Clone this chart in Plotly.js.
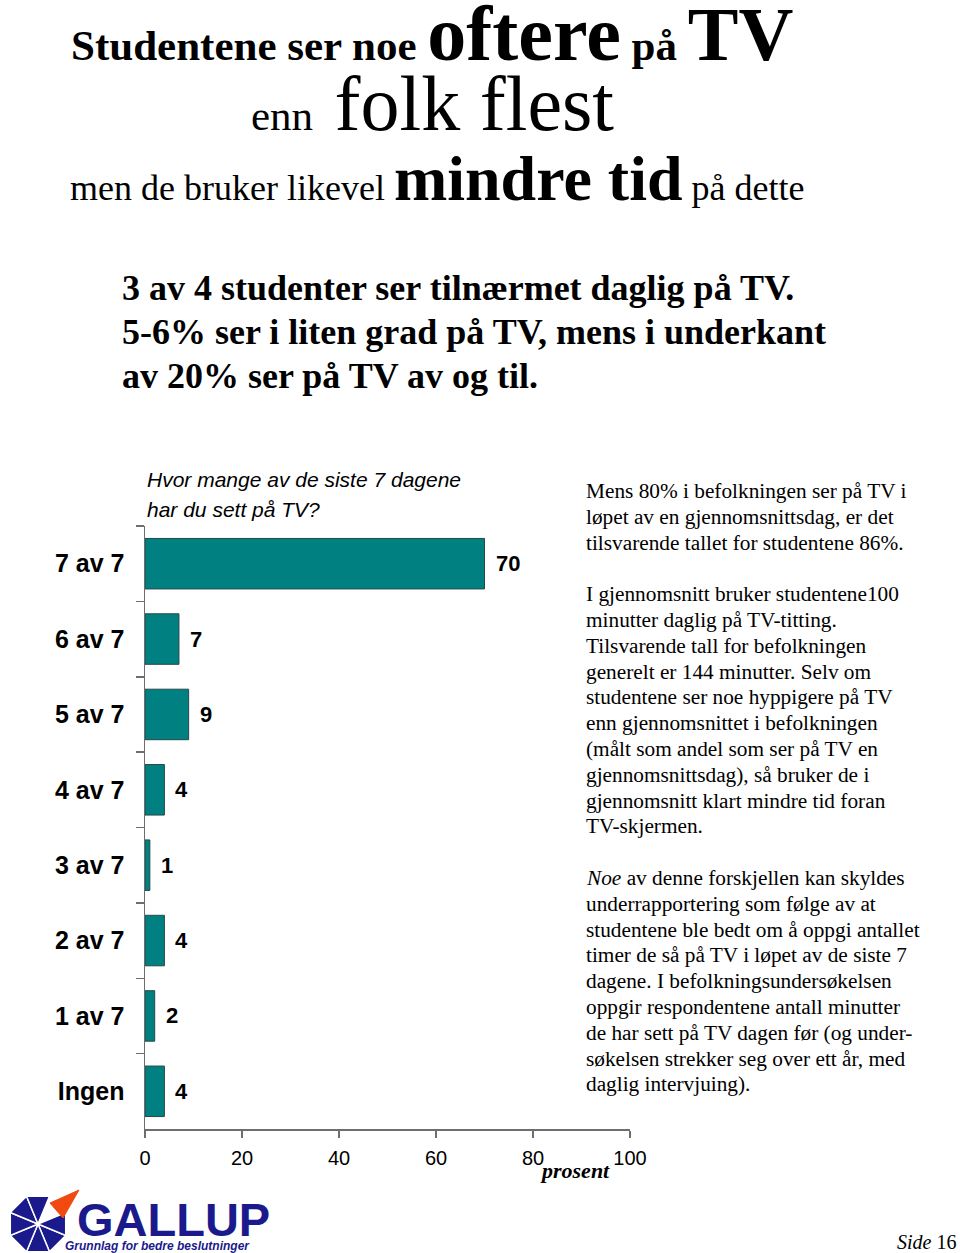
<!DOCTYPE html>
<html>
<head>
<meta charset="utf-8">
<script src="https://cdn.plot.ly/plotly-3.0.1.min.js"></script>
<style>
html,body{margin:0;padding:0;background:#fff;}
#chart{width:960px;height:1253px;}
</style>
</head>
<body>
<div id="chart"></div>
<script>
// ---- data ----
const categories = ["7 av 7","6 av 7","5 av 7","4 av 7","3 av 7","2 av 7","1 av 7","Ingen"];
const values = [70, 7, 9, 4, 1, 4, 2, 4];
const xTicks = [0, 20, 40, 60, 80, 100];

const questionLines = ["Hvor mange av de siste 7 dagene", "har du sett på TV?"];
const summaryLines = [
  "3 av 4 studenter ser tilnærmet daglig på TV.",
  "5-6% ser i liten grad på TV, mens i underkant",
  "av 20% ser på TV av og til."
];
const sideLines = [
  "Mens 80% i befolkningen ser på TV i",
  "løpet av en gjennomsnittsdag, er det",
  "tilsvarende tallet for studentene 86%.",
  "",
  "I gjennomsnitt bruker studentene100",
  "minutter daglig på TV-titting.",
  "Tilsvarende tall for befolkningen",
  "generelt er 144 minutter. Selv om",
  "studentene ser noe hyppigere på TV",
  "enn gjennomsnittet i befolkningen",
  "(målt som andel som ser på TV en",
  "gjennomsnittsdag), så bruker de i",
  "gjennomsnitt klart mindre tid foran",
  "TV-skjermen.",
  "",
  "<i>Noe</i> av denne forskjellen kan skyldes",
  "underrapportering som følge av at",
  "studentene ble bedt om å oppgi antallet",
  "timer de så på TV i løpet av de siste 7",
  "dagene. I befolkningsundersøkelsen",
  "oppgir respondentene antall minutter",
  "de har sett på TV dagen før (og under-",
  "søkelsen strekker seg over ett år, med",
  "daglig intervjuing)."
];

// ---- layout helpers ----
const W = 960, H = 1253;
const L = 145, R = 630, T = 526, B = 1129;
const px = x => (x - L) / (R - L);
const py = y => (B - y) / (B - T);
const SERIF = "Liberation Serif, Times New Roman, serif";
const SANS = "Liberation Sans, Arial, sans-serif";

const annotations = [];

// titles
annotations.push({xref:'paper', yref:'paper', x:px(69), y:py(79), xanchor:'left', yanchor:'bottom', showarrow:false,
  text:'<b>Studentene ser noe <span style="font-size:78px">oftere</span> på <span style="font-size:76px">TV</span></b>',
  font:{family:SERIF, size:43, color:'#000'}});
annotations.push({xref:'paper', yref:'paper', x:px(249), y:py(149), xanchor:'left', yanchor:'bottom', showarrow:false,
  text:'enn  <span style="font-size:78px">folk flest</span>',
  font:{family:SERIF, size:43, color:'#000'}});
annotations.push({xref:'paper', yref:'paper', x:px(68), y:py(216), xanchor:'left', yanchor:'bottom', showarrow:false,
  text:'men de bruker likevel <b><span style="font-size:64px">mindre tid</span></b> på dette',
  font:{family:SERIF, size:36, color:'#000'}});

summaryLines.forEach((t, i) => {
  annotations.push({xref:'paper', yref:'paper', x:px(120), y:py(288 + i*44), xanchor:'left', yanchor:'middle', showarrow:false,
    text:'<b>' + t + '</b>', font:{family:SERIF, size:36, color:'#000'}});
});

questionLines.forEach((t, i) => {
  annotations.push({xref:'paper', yref:'paper', x:px(145), y:py(480 + i*29), xanchor:'left', yanchor:'middle', showarrow:false,
    text:'<i>' + t + '</i>', font:{family:SANS, size:21, color:'#000'}});
});

sideLines.forEach((t, i) => {
  if (!t) return;
  annotations.push({xref:'paper', yref:'paper', x:px(584), y:py(491 + i*25.8), xanchor:'left', yanchor:'middle', showarrow:false,
    text:t, font:{family:SERIF, size:21.3, color:'#000'}});
});

// value labels
categories.forEach((c, i) => {
  annotations.push({xref:'x', yref:'y', x:values[i], y:c, xanchor:'left', yanchor:'middle', xshift:9, showarrow:false,
    text:String(values[i]), font:{family:SANS, size:22, color:'#000', weight:700}});
});

// axis title
annotations.push({xref:'paper', yref:'paper', x:px(575), y:py(1170), xanchor:'center', yanchor:'middle', showarrow:false,
  text:'<b><i>prosent</i></b>', font:{family:SERIF, size:22, color:'#000'}});

// logo text
annotations.push({xref:'paper', yref:'paper', x:px(75), y:py(1219), xanchor:'left', yanchor:'middle', showarrow:false,
  text:'<b>GALLUP</b>', font:{family:SANS, size:47, color:'#1a1a8c'}});
annotations.push({xref:'paper', yref:'paper', x:px(63), y:py(1246), xanchor:'left', yanchor:'middle', showarrow:false,
  text:'<b><i>Grunnlag for bedre beslutninger</i></b>', font:{family:SANS, size:12, color:'#1a1a8c'}});
// page number
annotations.push({xref:'paper', yref:'paper', x:px(958), y:py(1242), xanchor:'right', yanchor:'middle', showarrow:false,
  text:'<i>Side</i> 16', font:{family:SERIF, size:20, color:'#000'}});

// logo shapes
const shapes = [];
const cx = 38, cy = 1224, rad = 30;
for (let k = 0; k < 8; k++) {
  if (k === 6) continue; // upper-right sector replaced by orange wedge
  const a1 = (k * 45 + 22.5) * Math.PI / 180;
  const a2 = ((k + 1) * 45 + 22.5) * Math.PI / 180;
  const p1 = [cx + rad * Math.cos(a1), cy + rad * Math.sin(a1)];
  const p2 = [cx + rad * Math.cos(a2), cy + rad * Math.sin(a2)];
  shapes.push({type:'path', xref:'paper', yref:'paper',
    path:`M${px(cx)},${py(cy)} L${px(p1[0])},${py(p1[1])} L${px(p2[0])},${py(p2[1])} Z`,
    fillcolor:'#1a1a8c', line:{color:'#ffffff', width:1.5}});
}
shapes.push({type:'path', xref:'paper', yref:'paper',
  path:`M${px(50)},${py(1203)} L${px(79)},${py(1190)} L${px(63)},${py(1218)} Z`,
  fillcolor:'#f04a10', line:{color:'#f04a10', width:1}});

const trace = {
  type:'bar', orientation:'h',
  x: values, y: categories,
  marker:{color:'#008080', line:{color:'#264848', width:1}},
  hoverinfo:'skip'
};

const layout = {
  width: W, height: H,
  margin:{l:L, r:W - R, t:T, b:H - B, pad:0},
  paper_bgcolor:'#ffffff', plot_bgcolor:'#ffffff',
  showlegend:false,
  bargap:0.33,
  xaxis:{range:[0,100], tickvals:xTicks, ticktext:xTicks.map(String), ticks:'outside', ticklen:7, tickwidth:1.5,
    tickcolor:'#6e6e6e', showline:true, linecolor:'#6e6e6e', linewidth:1.5, showgrid:false, zeroline:false,
    ticklabelstandoff:3,
    tickfont:{family:SANS, size:20, color:'#000'}, fixedrange:true},
  yaxis:{type:'category', autorange:'reversed', tickson:'boundaries', ticks:'outside', ticklen:8, tickwidth:1.5,
    tickcolor:'#6e6e6e', showline:true, linecolor:'#6e6e6e', linewidth:1.5, showgrid:false, zeroline:false,
    ticklabelstandoff:14,
    tickfont:{family:SANS, size:25, color:'#000', weight:700}, fixedrange:true},
  annotations: annotations,
  shapes: shapes
};

Plotly.newPlot('chart', [trace], layout, {displayModeBar:false, staticPlot:true});
</script>
</body>
</html>
